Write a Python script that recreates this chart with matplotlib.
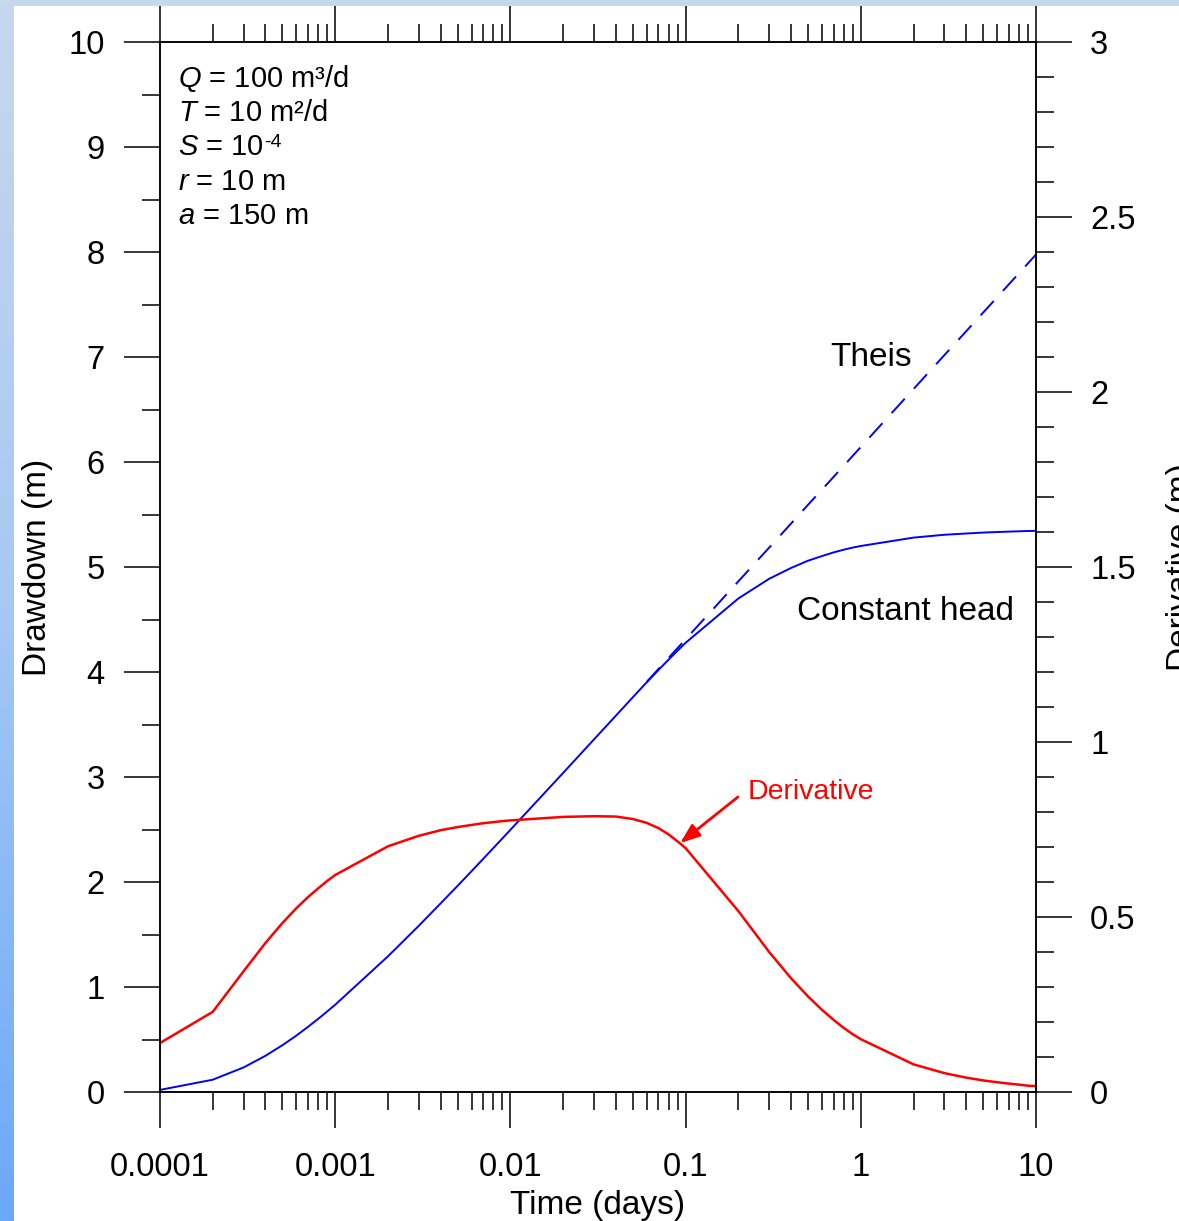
import numpy as np
import matplotlib
matplotlib.use("Agg")
import matplotlib.pyplot as plt
from matplotlib.ticker import MultipleLocator, LogLocator, FuncFormatter, NullFormatter
from matplotlib.colors import LinearSegmentedColormap
from matplotlib.patches import Rectangle

plt.rcParams["font.family"] = ["Liberation Sans", "DejaVu Sans"]
plt.rcParams["mathtext.fontset"] = "custom"
plt.rcParams["mathtext.rm"] = "Liberation Sans"
plt.rcParams["mathtext.it"] = "Liberation Sans:italic"

# time (days): 1..9 per decade
time = [1e-4, 2e-4, 3e-4, 4e-4, 5e-4, 6e-4, 7e-4, 8e-4, 9e-4,
        1e-3, 2e-3, 3e-3, 4e-3, 5e-3, 6e-3, 7e-3, 8e-3, 9e-3,
        1e-2, 2e-2, 3e-2, 4e-2, 5e-2, 6e-2, 7e-2, 8e-2, 9e-2,
        0.1, 0.2, 0.3, 0.4, 0.5, 0.6, 0.7, 0.8, 0.9,
        1, 2, 3, 4, 5, 6, 7, 8, 9, 10]

# constant head drawdown (m)
const_head = [0.020, 0.117, 0.234, 0.345, 0.446, 0.537, 0.621, 0.697, 0.767,
              0.831, 1.292, 1.583, 1.797, 1.964, 2.103, 2.221, 2.324, 2.415,
              2.497, 3.039, 3.358, 3.584, 3.760, 3.902, 4.019, 4.118, 4.204,
              4.278, 4.700, 4.888, 4.991, 5.060, 5.104, 5.139, 5.165, 5.185,
              5.200, 5.280, 5.307, 5.319, 5.328, 5.333, 5.337, 5.340, 5.343, 5.344]

# derivative (m), right axis
derivative = [0.140, 0.229, 0.345, 0.426, 0.483, 0.525, 0.557, 0.582, 0.603,
              0.620, 0.702, 0.732, 0.748, 0.757, 0.763, 0.768, 0.771, 0.774,
              0.776, 0.786, 0.788, 0.787, 0.780, 0.769, 0.754, 0.736, 0.716,
              0.697, 0.517, 0.400, 0.325, 0.273, 0.235, 0.206, 0.183, 0.165,
              0.151, 0.079, 0.054, 0.041, 0.033, 0.028, 0.024, 0.021, 0.018, 0.017]

# Theis (dashed), late part only
theis_time = [0.06, 0.07, 0.08, 0.09, 0.1, 0.2, 0.3, 0.4, 0.5, 0.6, 0.7, 0.8, 0.9,
              1, 2, 3, 4, 5, 6, 7, 8, 9, 10]
theis = [3.906, 4.029, 4.135, 4.228, 4.312, 4.863, 5.185, 5.414, 5.593, 5.736, 5.859,
         5.965, 6.059, 6.143, 6.695, 7.018, 7.246, 7.424, 7.569, 7.692, 7.798, 7.892, 7.976]

# parameter box: (main text, superscript after it or None)
params = [(r"$\it{Q}$ = 100 m³/d", None),
          (r"$\it{T}$ = 10 m²/d", None),
          (r"$\it{S}$ = 10", "-4"),
          (r"$\it{r}$ = 10 m", None),
          (r"$\it{a}$ = 150 m", None)]

W, H = 1179, 1221
fig = plt.figure(figsize=(W / 100, H / 100), dpi=100)

#blue frame bits at the left and top edge
cmap = LinearSegmentedColormap.from_list("bg", ["#c6d8ee", "#a6c8f3", "#6ba8f9"])
bg = fig.add_axes([0, 0, 14 / W, 1])
bg.imshow(np.linspace(0, 1, 256).reshape(-1, 1), aspect="auto", cmap=cmap)
bg.axis("off")
fig.patches.append(Rectangle((0, 1 - 6 / H), 1, 6 / H, transform=fig.transFigure,
                             facecolor="#c6d8ee", edgecolor="none", zorder=0))

ax = fig.add_axes([160 / W, 129 / H, 876 / W, 1050 / H])
ax2 = ax.twinx()

ax.plot(theis_time, theis, color="blue", lw=1.4, linestyle=(0, (10, 7)))
ax.plot(time, const_head, color="blue", lw=1.4)
ax2.plot(time, derivative, color="red", lw=1.8)

ax.set_xscale("log")
ax.set_xlim(1e-4, 10)
ax.set_ylim(0, 10)
ax2.set_ylim(0, 3)

ax.xaxis.set_major_locator(LogLocator(base=10, numticks=10))
ax.xaxis.set_minor_locator(LogLocator(base=10, subs=np.arange(2, 10), numticks=10))
ax.xaxis.set_major_formatter(FuncFormatter(lambda v, p: "%g" % v))
ax.xaxis.set_minor_formatter(NullFormatter())
ax.yaxis.set_major_locator(MultipleLocator(1))
ax.yaxis.set_minor_locator(MultipleLocator(0.5))
ax2.yaxis.set_major_locator(MultipleLocator(0.5))
ax2.yaxis.set_minor_locator(MultipleLocator(0.1))
ax2.yaxis.set_major_formatter(FuncFormatter(lambda v, p: "%g" % v))

ax.tick_params(axis="x", which="both", top=True, direction="out")
ax.tick_params(which="major", length=26, width=1.1, labelsize=23.5, pad=14)
ax.tick_params(axis="x", which="major", pad=17)
ax.tick_params(which="minor", length=13, width=1.1)
ax2.tick_params(which="major", direction="out", length=26, width=1.1, labelsize=23.5, pad=13)
ax2.tick_params(which="minor", direction="out", length=13, width=1.1)
for a in (ax, ax2):
    for s in a.spines.values():
        s.set_linewidth(1.1)

ax.set_xlabel("Time (days)", fontsize=24, labelpad=5)
ax.set_ylabel("Drawdown (m)", fontsize=24, labelpad=11)
ax2.set_ylabel("Derivative (m)", fontsize=24, labelpad=22, rotation=90)

ys = [0.9655, 0.932, 0.900, 0.8665, 0.834]
for (txt, sup), yy in zip(params, ys):
    t = ax.text(0.021, yy, txt, transform=ax.transAxes, fontsize=21, va="center", ha="left")
    if sup:
        ax.annotate(sup, xy=(1.0, 0.95), xycoords=t, fontsize=14, ha="left", va="top")

ax.text(1.14, 7.0, "Theis", fontsize=24, ha="center", va="center")
ax.text(1.81, 4.58, "Constant head", fontsize=24, ha="center", va="center")

ax2.annotate("", xy=(0.093, 0.711), xytext=(0.199, 0.843),
             arrowprops=dict(arrowstyle="-|>,head_length=1.2,head_width=0.45",
                             color="red", lw=2, shrinkA=0, shrinkB=0))
ax2.text(0.227, 0.857, "Derivative", color="red", fontsize=20.5, ha="left", va="center")

fig.savefig("out.png", dpi=100)
